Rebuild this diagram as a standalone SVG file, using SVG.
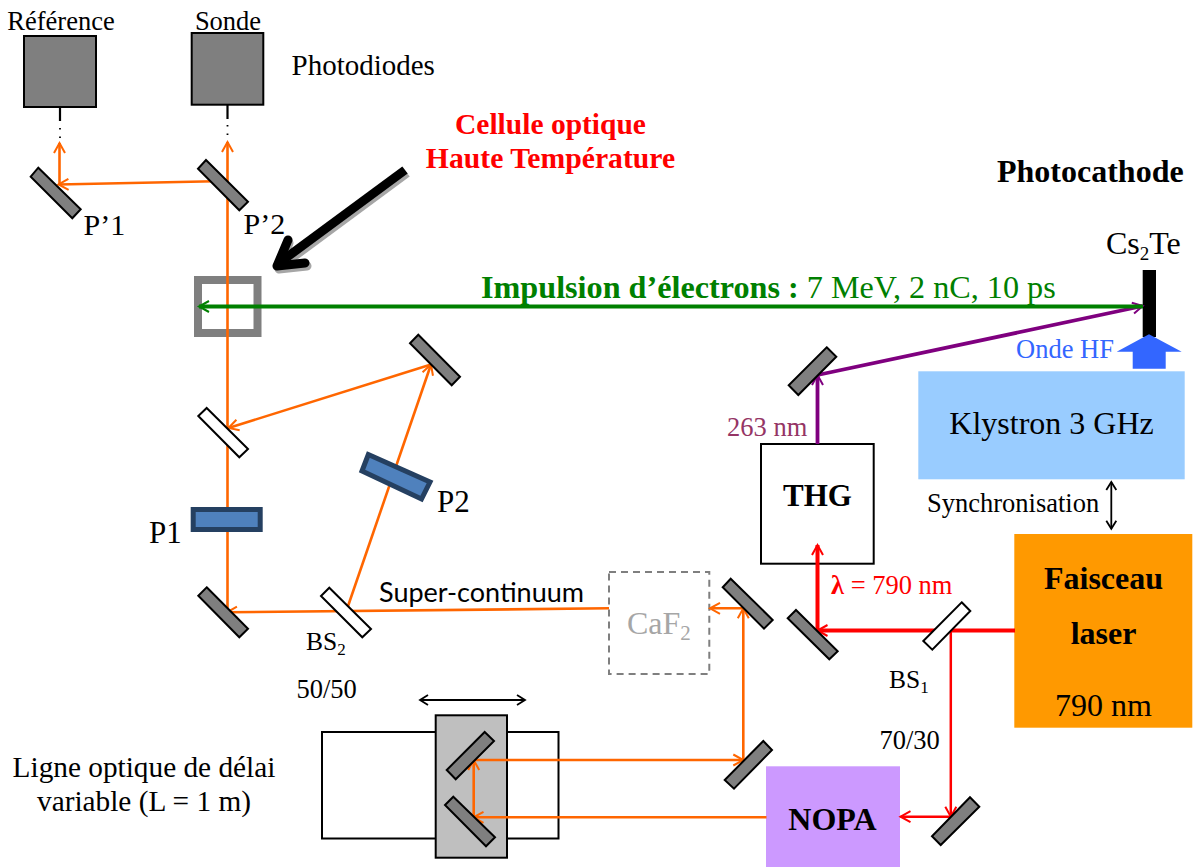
<svg xmlns="http://www.w3.org/2000/svg" width="1193" height="867" viewBox="0 0 1193 867">
<style>
text{font-family:"Liberation Serif","Times New Roman",serif;font-size:26.5px;fill:#000}
.b{font-weight:bold}.l{font-size:29px}.xl{font-size:32px}.m{text-anchor:middle}
.sub{font-size:19px}
.mir{fill:#7f7f7f;stroke:#000;stroke-width:2}
.bs{fill:#fff;stroke:#000;stroke-width:2}
.pl{fill:#4f81bd;stroke:#254061;stroke-width:5}
.box{fill:#fff;stroke:#000;stroke-width:2}
.diode{fill:#7f7f7f;stroke:#000;stroke-width:2}
.o{fill:none;stroke:#ff6600;stroke-width:2.6}
.oa{marker-end:url(#ao)}
.r{fill:none;stroke:#f00}
.p{fill:none;stroke:#7f007f;stroke-width:3.8}
.k{fill:none;stroke:#000;stroke-width:1.8}
</style>
<defs>
<marker id="ao" markerUnits="userSpaceOnUse" markerWidth="16" markerHeight="16" refX="13" refY="8" orient="auto"><path d="M3 2.5L13 8L3 13.5" fill="none" stroke="#ff6600" stroke-width="2"/></marker>
<marker id="ar" markerUnits="userSpaceOnUse" markerWidth="16" markerHeight="16" refX="13" refY="8" orient="auto"><path d="M3 2.5L13 8L3 13.5" fill="none" stroke="#f00" stroke-width="2"/></marker>
<marker id="ap" markerUnits="userSpaceOnUse" markerWidth="16" markerHeight="16" refX="13" refY="8" orient="auto"><path d="M3 2.5L13 8L3 13.5" fill="none" stroke="#7f007f" stroke-width="2"/></marker>
<marker id="ag" markerUnits="userSpaceOnUse" markerWidth="16" markerHeight="16" refX="13" refY="8" orient="auto"><path d="M3 2.5L13 8L3 13.5" fill="none" stroke="#008000" stroke-width="2"/></marker>
<marker id="ak" markerUnits="userSpaceOnUse" markerWidth="14" markerHeight="14" refX="12" refY="7" orient="auto"><path d="M4 2L12 7L4 12" fill="none" stroke="#000" stroke-width="1.8"/></marker>
<marker id="aks" markerUnits="userSpaceOnUse" markerWidth="14" markerHeight="14" refX="2" refY="7" orient="auto"><path d="M10 2L2 7L10 12" fill="none" stroke="#000" stroke-width="1.8"/></marker>
</defs>

<g id="delay-rail"><rect class="box" x="322" y="732" width="236.500" height="106.500"/></g>
<g id="delay-stage"><rect x="435.700" y="715.300" width="71.300" height="142.400" fill="#bfbfbf" stroke="#000" stroke-width="2"/></g>
<g id="photodiode-ref"><rect class="diode" x="24" y="36" width="72" height="71"/><text class="m" x="61" y="30">Référence</text></g>
<g id="photodiode-sonde"><rect class="diode" x="191.700" y="33" width="71.600" height="71.700"/><text class="m" x="228" y="30">Sonde</text></g>
<g id="photodiodes-label"><text class="l" x="291.500" y="75">Photodiodes</text></g>
<g id="cell-label"><text class="b m l" x="550.500" y="133.500" style="fill:#f00;font-size:29.500px">Cellule optique</text><text class="b m l" x="550.500" y="167.500" style="fill:#f00;font-size:29.700px">Haute Température</text></g>
<g id="photocathode"><text class="b xl" x="997" y="182">Photocathode</text><text class="xl" x="1106" y="254" style="font-size:32px">Cs<tspan class="sub" dy="6">2</tspan><tspan dy="-6">Te</tspan></text><rect x="1142.700" y="270" width="13.300" height="67" fill="#000"/></g>
<g id="cell"><rect x="198" y="280" width="59.500" height="53" fill="none" stroke="#7f7f7f" stroke-width="8"/></g>
<g id="klystron"><rect x="918.300" y="371.300" width="266.400" height="108" fill="#99ccff"/><text class="m xl" x="1051.500" y="433.500">Klystron 3 GHz</text></g>
<g id="onde-hf"><polygon points="1149,334.300 1181.700,351.700 1165.700,351.700 1165.700,368.700 1132.700,368.700 1132.700,351.700 1116.700,351.700" fill="#3366ff"/><text x="1016" y="357.500" style="fill:#3366ff">Onde HF</text></g>
<g id="thg"><rect class="box" x="761" y="444" width="112.700" height="119.700"/><text class="b m" x="817.500" y="505.700" style="font-size:31px">THG</text></g>
<g id="laser"><rect x="1014.300" y="534" width="178" height="193.700" fill="#ff9900"/><text class="b m xl" x="1103.500" y="588.500">Faisceau</text><text class="b m xl" x="1103.500" y="643.500">laser</text><text class="m xl" x="1103.500" y="715.500">790 nm</text></g>
<g id="nopa"><rect x="766" y="766.300" width="134" height="100.700" fill="#cc99ff"/><text class="b m xl" x="832.500" y="829.500">NOPA</text></g>
<g id="caf2"><rect x="609" y="572" width="100.300" height="102" fill="#fff" stroke="#7f7f7f" stroke-width="2" stroke-dasharray="7 5"/><text class="xl" x="627" y="633.500" style="fill:#a6a6a6">CaF<tspan class="sub" dy="6" style="fill:#a6a6a6;font-size:21px">2</tspan></text></g>

<g id="connectors">
<path class="k" style="stroke-width:2.200" d="M60 107V121M227.500 105V119"/>
<path class="k" stroke-dasharray="1.500 7" d="M60 128V140M227.500 125V138"/>
<path class="o oa" d="M227.500 612V142"/>
<path class="o oa" d="M227 181L58.500 184.500"/>
<path class="o oa" d="M59.500 184V143"/>
<path class="o oa" d="M609 608.300L227 612.300"/>
<path class="o oa" d="M346.500 610.500L431 364.500"/>
<path class="o oa" d="M431 364.500L228.500 428"/>
<path class="o oa" d="M766.500 817.300H473.500"/>
<path class="o oa" d="M473.700 817.300V760"/>
<path class="o oa" d="M473.700 760H743.300"/>
<path class="o oa" d="M743.300 760V608.300"/>
<path class="o oa" d="M743.300 608.300H710"/>
<path class="r" style="stroke-width:4;marker-end:url(#ar)" d="M1015 630.500H817.500"/>
<path class="r" style="stroke-width:4;marker-end:url(#ar)" d="M817.500 630.500V545"/>
<path class="r" style="stroke-width:2.500;marker-end:url(#ar)" d="M950.800 630.500V816.700"/>
<path class="r" style="stroke-width:2.500;marker-end:url(#ar)" d="M950.800 816.700H900.500"/>
<path class="p" style="marker-end:url(#ap)" d="M817.500 444V375"/>
<path class="p" style="marker-end:url(#ap)" d="M817.500 375L1142.700 306"/>
<path fill="none" stroke="#008000" stroke-width="4" style="marker-end:url(#ag)" d="M1143 306.500H199"/>
<path class="k" style="marker-start:url(#aks);marker-end:url(#ak)" d="M1111.300 482V528.700"/>
<path class="k" style="marker-start:url(#aks);marker-end:url(#ak)" d="M420 700H525"/>
<g fill="none" stroke-linejoin="round" stroke-width="9">
<path stroke="#a6a6a6" transform="translate(2 3)" d="M405 170L279 263"/>
<path stroke="#a6a6a6" stroke-linecap="round" transform="translate(2 3)" d="M287 240L277 266L305 263"/>
<path stroke="#000" d="M405 170L279 263"/>
<path stroke="#000" stroke-linecap="round" d="M288 240L277 266L305 263"/>
</g>
</g>

<g id="mirror-p1"><polygon class="mir" points="38.300,167.700 80.700,209.300 72.300,218.300 30.700,176.700"/><text class="l" x="83.500" y="235" style="font-size:30px">P’1</text></g>
<g id="mirror-p2"><polygon class="mir" points="206,160 248,201.700 239.300,210.300 198,168.700"/><text class="l" x="243.500" y="234" style="font-size:30px">P’2</text></g>
<g id="mirror-top"><polygon class="mir" points="418.300,334.700 460,376.700 451.700,385.300 410,343.300"/></g>
<g id="bs-top"><polygon class="bs" points="206.700,408 248,449 239.300,457.300 198.300,416"/></g>
<g id="plate-p1"><rect class="pl" x="193.200" y="509.500" width="67" height="20"/><text class="l" x="149" y="543" style="font-size:31px">P1</text></g>
<g id="plate-p2"><polygon class="pl" points="368.300,454.500 430,482 421.500,499 362,471"/><text class="l" x="437" y="511.700" style="font-size:31px">P2</text></g>
<g id="mirror-low"><polygon class="mir" points="206.700,587.300 248,628.700 239.300,637.300 198.300,595.700"/></g>
<g id="bs2"><polygon class="bs" points="329.300,587.700 371,629 362.300,637.300 321,596"/><text x="306" y="650" style="font-size:25.500px">BS<tspan class="sub" dy="5" style="font-size:17px">2</tspan></text><text x="296.500" y="698">50/50</text></g>
<g id="mirror-caf"><polygon class="mir" points="730.700,578.700 772.700,620 764,628.700 722.700,587.300"/></g>
<g id="mirror-red"><polygon class="mir" points="796,610 837.700,651.300 829.300,659.300 787.700,618.300"/></g>
<g id="bs1"><polygon class="bs" points="961.700,602.300 970.300,611 932.300,649.700 923.300,641"/><text x="889" y="688" style="font-size:25.500px">BS<tspan class="sub" dy="5" style="font-size:17px">1</tspan></text><text x="879.500" y="749">70/30</text></g>
<g id="mirror-delay-low"><polygon class="mir" points="763.300,741 772,750 734,788.700 724.700,780"/></g>
<g id="mirror-nopa"><polygon class="mir" points="970,797.300 979.300,806.700 940.700,845 932,836.300"/></g>
<g id="mirror-stage-up"><polygon class="mir" points="484.700,732 494,741 455.700,779.300 446.700,770"/></g>
<g id="mirror-stage-down"><polygon class="mir" points="453.300,796.700 495,837.300 486,846.300 445,805"/></g>
<g id="mirror-thg"><polygon class="mir" points="826.700,347.300 836.300,356.700 798.300,395 788.700,385.300"/></g>

<g id="labels">
<text x="481" y="298" class="b xl" style="fill:#008000;font-size:32.200px">Impulsion d’électrons : <tspan style="font-weight:normal">7 MeV, 2 nC, 10 ps</tspan></text>
<text x="727" y="435.700" style="fill:#953565">263 nm</text>
<text x="927" y="511.700">Synchronisation</text>
<text x="831" y="594" style="fill:#f00"><tspan class="b">λ</tspan> = 790 nm</text>
<text x="379" y="601.700" style="font-family:Lato,'Open Sans',sans-serif;font-size:27px">Super-continuum</text>
<text class="m" x="144" y="777" style="font-size:29.300px">Ligne optique de délai</text>
<text class="m" x="144" y="811" style="font-size:29.300px">variable (L = 1 m)</text>
</g>
</svg>
